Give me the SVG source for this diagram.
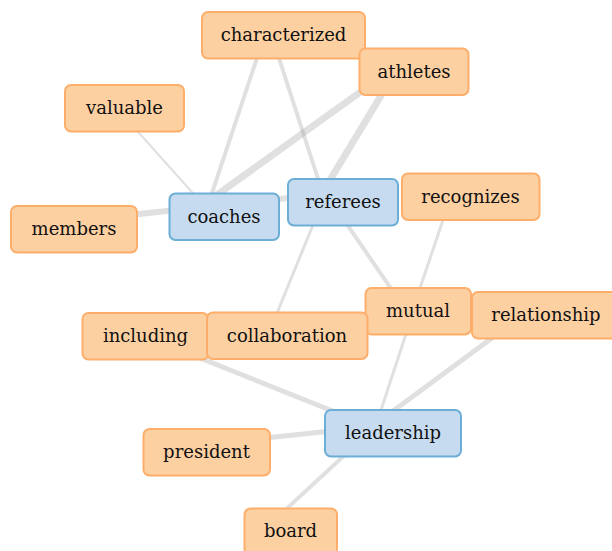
<svg xmlns="http://www.w3.org/2000/svg" width="612" height="551" viewBox="0 0 612 551">
<style>
.e{stroke:#999;stroke-opacity:0.3;stroke-linecap:butt;fill:none}
.o rect{fill:#FDD0A2;stroke:#FDAE6B;stroke-width:2}
.b rect{fill:#C6DBEF;stroke:#6BAED6;stroke-width:2}
text{font-family:"DejaVu Serif","Liberation Serif",serif;font-size:18px;fill:#111;text-anchor:middle}
</style>
<rect width="612" height="551" fill="#fff"/>
<g id="edges">
<line class="e" x1="131" y1="124" x2="199" y2="200" stroke-width="2"/>
<line class="e" x1="259" y1="52" x2="210" y2="199" stroke-width="4"/>
<line class="e" x1="366" y1="88" x2="214" y2="197" stroke-width="7"/>
<line class="e" x1="130" y1="215" x2="176" y2="210" stroke-width="6"/>
<line class="e" x1="272" y1="200" x2="295" y2="197" stroke-width="6"/>
<line class="e" x1="277" y1="52" x2="320" y2="185" stroke-width="4"/>
<line class="e" x1="385" y1="89" x2="327" y2="185" stroke-width="7"/>
<line class="e" x1="315" y1="220" x2="275" y2="318" stroke-width="3"/>
<line class="e" x1="344" y1="220" x2="394" y2="293" stroke-width="4"/>
<line class="e" x1="445" y1="214" x2="418" y2="294" stroke-width="3"/>
<line class="e" x1="408" y1="328" x2="379" y2="416" stroke-width="3"/>
<line class="e" x1="496" y1="335" x2="389" y2="414" stroke-width="5"/>
<line class="e" x1="200" y1="358" x2="335" y2="412" stroke-width="5"/>
<line class="e" x1="265" y1="438" x2="332" y2="431" stroke-width="5"/>
<line class="e" x1="282" y1="513" x2="348" y2="452" stroke-width="4"/>
</g>
<g id="characterized" class="o"><rect x="202" y="12" width="163" height="46.5" rx="6"/><text x="283.5" y="41">characterized</text></g>
<g id="athletes" class="o"><rect x="359.5" y="48.5" width="109" height="46.5" rx="6"/><text x="414" y="77.5">athletes</text></g>
<g id="valuable" class="o"><rect x="65" y="85" width="119" height="46.5" rx="6"/><text x="124.5" y="114">valuable</text></g>
<g id="members" class="o"><rect x="11" y="206" width="126" height="46.5" rx="6"/><text x="74" y="235">members</text></g>
<g id="coaches" class="b"><rect x="169.5" y="193.5" width="109.5" height="46.5" rx="6"/><text x="224" y="222.5">coaches</text></g>
<g id="referees" class="b"><rect x="288" y="179" width="110" height="46.5" rx="6"/><text x="343" y="208">referees</text></g>
<g id="recognizes" class="o"><rect x="402" y="173.5" width="137.5" height="46.5" rx="6"/><text x="470.5" y="202.5">recognizes</text></g>
<g id="including" class="o"><rect x="82.5" y="313" width="126" height="46.5" rx="6"/><text x="145.5" y="342">including</text></g>
<g id="mutual" class="o"><rect x="365.5" y="288" width="105.5" height="46.5" rx="6"/><text x="418" y="317">mutual</text></g>
<g id="collaboration" class="o"><rect x="207" y="312.5" width="160.5" height="46.5" rx="6"/><text x="287" y="341.5">collaboration</text></g>
<g id="relationship" class="o"><rect x="472" y="292" width="148" height="46.5" rx="6"/><text x="546" y="321">relationship</text></g>
<g id="leadership" class="b"><rect x="325" y="410" width="136" height="46.5" rx="6"/><text x="393" y="439">leadership</text></g>
<g id="president" class="o"><rect x="143.5" y="429" width="126.5" height="46.5" rx="6"/><text x="206.5" y="458">president</text></g>
<g id="board" class="o"><rect x="244.5" y="508.5" width="92.5" height="46.5" rx="6"/><text x="290.5" y="537">board</text></g>
</svg>
